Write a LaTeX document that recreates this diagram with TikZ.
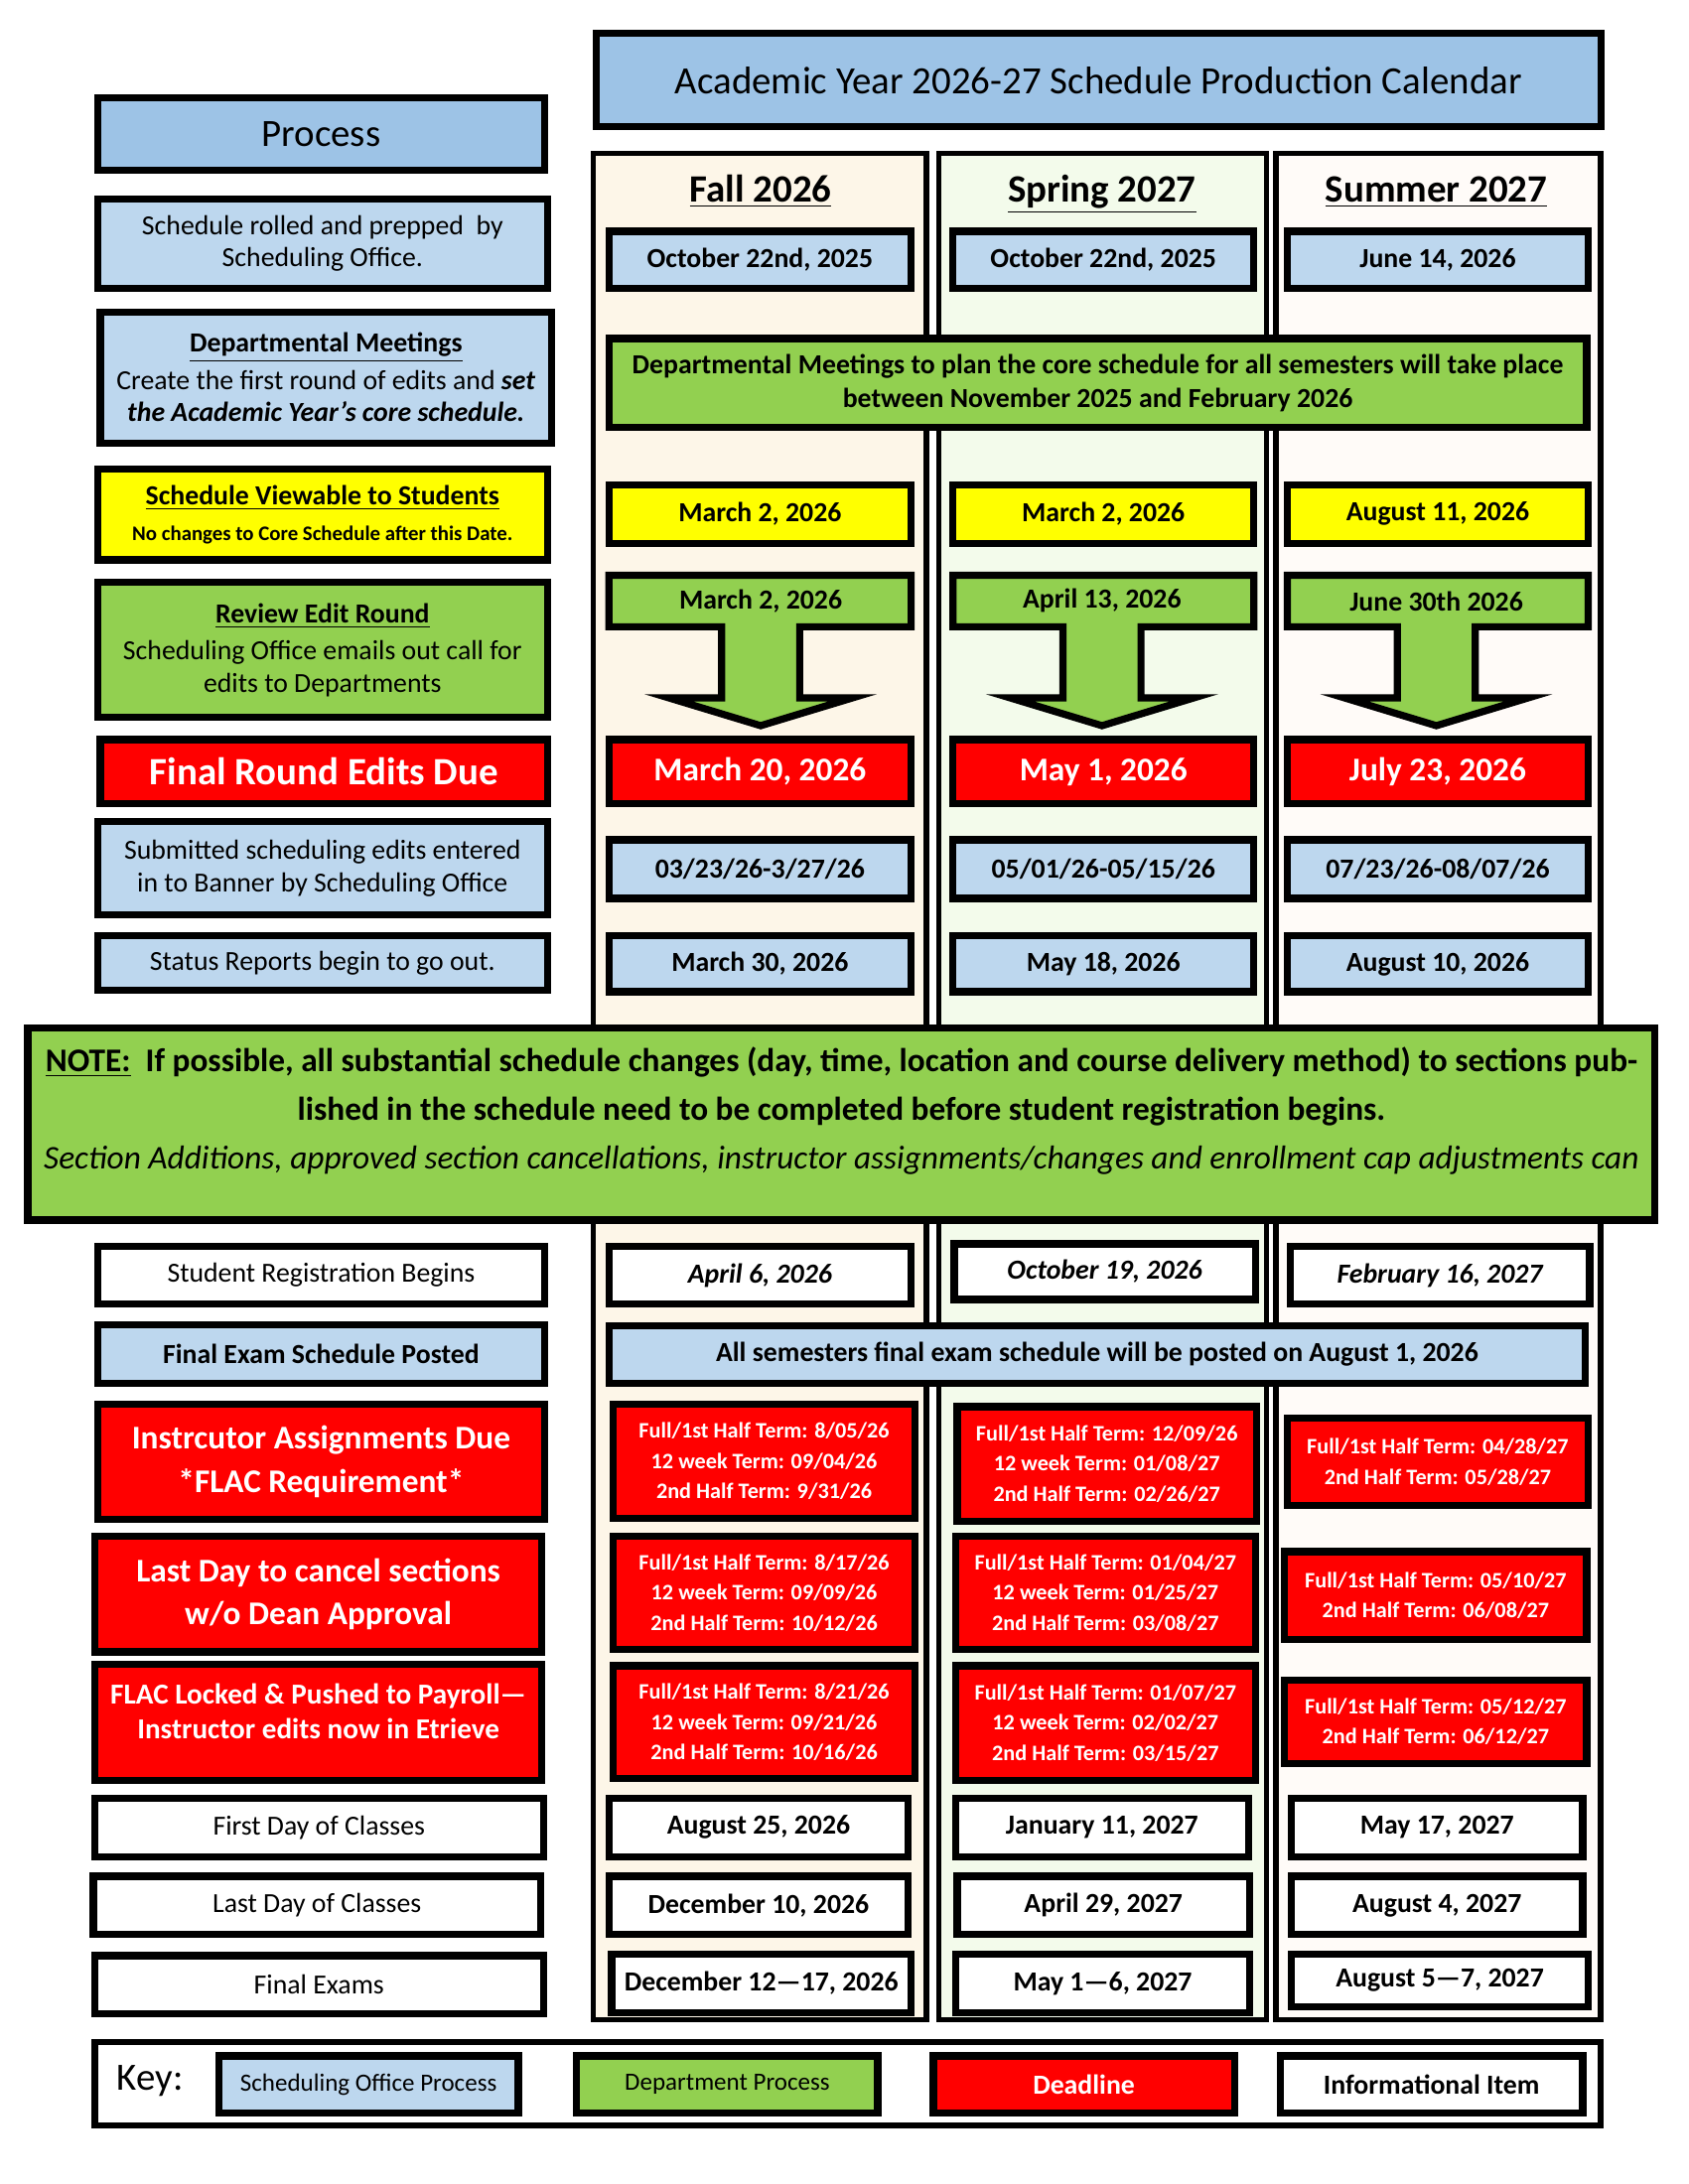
\documentclass[tikz,border=0pt]{standalone}
\usepackage{fontspec}
\setmainfont{Carlito}
\usetikzlibrary{positioning}
\definecolor{hdrblue}{RGB}{157,195,230}
\definecolor{ltblue}{RGB}{189,215,238}
\definecolor{grn}{RGB}{146,208,80}
\definecolor{ylw}{RGB}{255,255,0}
\definecolor{redbox}{RGB}{255,0,0}
\definecolor{fallbg}{RGB}{253,246,232}
\definecolor{springbg}{RGB}{243,251,235}
\definecolor{summerbg}{RGB}{255,251,248}
\tikzset{
cell/.style args={#1/#2/#3/#4}{at={(#1/2+#3/2,#2/2+#4/2)}, minimum width={(#3-#1)*0.505pt}, minimum height={(#4-#2)*0.505pt}}, % box from its corners
boxed/.style={draw, line width=2.6pt, inner sep=0pt, align=center}, % every framed box
hdrbox/.style={boxed, fill=hdrblue, font=\fontsize{14}{17}\selectfont},
schedbox/.style={boxed, fill=ltblue, font=\fontsize{10}{11.6}\selectfont}, % scheduling office
deptbox/.style={boxed, fill=grn, font=\fontsize{10}{11.6}\selectfont}, % department
viewbox/.style={boxed, fill=ylw, font=\fontsize{10}{12}\selectfont\bfseries},
deadbox/.style={boxed, fill=redbox, text=white, font=\fontsize{12}{15.7}\selectfont\bfseries}, % deadline
infobox/.style={boxed, fill=white, font=\fontsize{10}{12}\selectfont},
datetext/.style={font=\fontsize{10}{12}\selectfont\bfseries},
termbox/.style={boxed, fill=redbox, text=white, font=\fontsize{8}{11}\selectfont\bfseries},
colbox/.style={draw, line width=2pt, inner sep=0pt},
semhead/.style={anchor=base, font=\fontsize{14}{17}\selectfont\bfseries},
}
\begin{document}
\begin{tikzpicture}[x=0.505pt, y=-0.505pt]
\useasboundingbox[fill=white] (0,0) rectangle (1212,1568);
% semester columns
\node[colbox, fill=fallbg, cell=426/110/665/1450] (fall) {};
\node[colbox, fill=springbg, cell=674/110/909/1450] (spring) {};
\node[colbox, fill=summerbg, cell=916/110/1149/1450] (summer) {};
\node[semhead] (fallH) at (546,145) {\underline{Fall 2026}};
\node[semhead] (springH) at (791,145) {\underline{Spring 2027}};
\node[semhead] (summerH) at (1031,145) {\underline{Summer 2027}};

\node[hdrbox, cell=428/24/1149/91] (title) {Academic Year 2026-27 Schedule Production Calendar};

% process column
\node[hdrbox, cell=70/70/391/122] (process) {Process};
\node[schedbox, cell=70/143/393/207] (rolled) {Schedule rolled and prepped\ \ by\\Scheduling Office.};
\node[schedbox, cell=72/224/396/318] (meet) {\textbf{\underline{Departmental Meetings}}\\[2pt]Create the first round of edits and \textbf{\textit{set}}\\\textbf{\textit{the Academic Year’s core schedule.}}};
\node[viewbox, cell=70/337/393/402] (viewable) {\underline{Schedule Viewable to Students}\\[1pt]{\fontsize{7.5}{9}\selectfont No changes to Core Schedule after this Date.}};
\node[deptbox, cell=70/418/393/515] (review) {\textbf{\underline{Review Edit Round}}\\[2pt]Scheduling Office emails out call for\\edits to Departments};
\node[deadbox, font=\fontsize{14}{17}\selectfont\bfseries, cell=72/531/393/577] (finalRound) {Final Round Edits Due};
\node[schedbox, cell=70/590/393/657] (entered) {Submitted scheduling edits entered\\in to Banner by Scheduling Office};
\node[schedbox, cell=70/672/393/711] (status) {Status Reports begin to go out.};

% first rows of the semesters
\node[schedbox, datetext, cell=437/166/654/207] (fallA) {October 22nd, 2025};
\node[schedbox, datetext, cell=684/166/900/207] (springA) {October 22nd, 2025};
\node[schedbox, datetext, cell=924/166/1140/207] (summerA) {June 14, 2026};
\node[deptbox, datetext, cell=437/243/1139/307] (meetAll) {Departmental Meetings to plan the core schedule for all semesters will take place\\between November 2025 and February 2026};
\node[viewbox, cell=437/348/654/390] (fallV) {March 2, 2026};
\node[viewbox, cell=684/348/900/390] (springV) {March 2, 2026};
\node[viewbox, cell=924/348/1140/390] (summerV) {August 11, 2026};

% review round arrows
\foreach \cx/\xa/\xb/\txt/\nm in {546/437/654/{March 2, 2026}/fallR, 791/684/900/{April 13, 2026}/springR, 1031/924/1140/{June 30th 2026}/summerR}{
  \draw[deptbox] (\xa,413) -- (\xb,413) -- (\xb,450) -- (\cx+28,450) -- (\cx+28,501) -- (\cx+66,501)
    -- (\cx,521) -- (\cx-66,501) -- (\cx-28,501) -- (\cx-28,450) -- (\xa,450) -- cycle;
  \node[datetext] (\nm) at (\cx,431.5) {\txt};
}

\node[deadbox, cell=437/531/654/577] (fallD) {March 20, 2026};
\node[deadbox, cell=684/531/900/577] (springD) {May 1, 2026};
\node[deadbox, cell=924/531/1140/577] (summerD) {July 23, 2026};
\node[schedbox, datetext, cell=437/603/654/645] (fallE) {03/23/26-3/27/26};
\node[schedbox, datetext, cell=684/603/900/645] (springE) {05/01/26-05/15/26};
\node[schedbox, datetext, cell=924/603/1140/645] (summerE) {07/23/26-08/07/26};
\node[schedbox, datetext, cell=437/672/654/712] (fallS) {March 30, 2026};
\node[schedbox, datetext, cell=684/672/900/712] (springS) {May 18, 2026};
\node[schedbox, datetext, cell=924/672/1140/712] (summerS) {August 10, 2026};

% note across the page
\node[deptbox, cell=20/738/1188/876] (note) {};
\node[anchor=north, inner sep=0pt, align=center, font=\fontsize{12}{17.7}\selectfont\bfseries] (noteText) at (604,751)
  {\underline{NOTE:}\ \ If possible, all substantial schedule changes (day, time, location and course delivery method) to sections pub-\\
  lished in the schedule need to be completed before student registration begins.\\
  {\fontsize{12}{17.7}\selectfont\mdseries\itshape Section Additions, approved section cancellations, instructor assignments/changes and enrollment cap adjustments can}};

% lower process column
\node[infobox, cell=70/895/391/936] (regist) {Student Registration Begins};
\node[schedbox, datetext, cell=70/951/391/993] (examPost) {Final Exam Schedule Posted};
\node[deadbox, cell=70/1008/391/1091] (assign) {Instrcutor Assignments Due\\{}*FLAC Requirement*};
\node[deadbox, cell=68/1103/389/1186] (cancel) {Last Day to cancel sections\\w/o Dean Approval};
\node[deadbox, cell=68/1195/389/1278] (flac) {};
\node[align=center, text=white, font=\fontsize{10.5}{12.6}\selectfont\bfseries] (flacText) at ([yshift=4pt]flac.center) {FLAC Locked \& Pushed to Payroll—\\Instructor edits now in Etrieve};
\node[infobox, cell=68/1291/390/1333] (firstDay) {First Day of Classes};
\node[infobox, cell=67/1347/388/1389] (lastDay) {Last Day of Classes};
\node[infobox, cell=68/1404/390/1446] (exams) {Final Exams};

% lower semester rows
\node[infobox, datetext, cell=437/895/654/936] (fallG) {\itshape April 6, 2026};
\node[infobox, datetext, cell=685/893/901/933] (springG) {\itshape October 19, 2026};
\node[infobox, datetext, cell=926/895/1141/936] (summerG) {\itshape February 16, 2027};
\node[schedbox, datetext, cell=437/952/1138/993] (examAll) {All semesters final exam schedule will be posted on August 1, 2026};

\node[termbox, cell=440/1008/657/1090] (fallT1) {Full/1st Half Term: 8/05/26\\12 week Term: 09/04/26\\2nd Half Term: 9/31/26};
\node[termbox, cell=687/1010/902/1092] (springT1) {Full/1st Half Term: 12/09/26\\12 week Term: 01/08/27\\2nd Half Term: 02/26/27};
\node[termbox, cell=924/1018/1140/1081] (summerT1) {Full/1st Half Term: 04/28/27\\2nd Half Term: 05/28/27};
\node[termbox, cell=440/1103/657/1184] (fallT2) {Full/1st Half Term: 8/17/26\\12 week Term: 09/09/26\\2nd Half Term: 10/12/26};
\node[termbox, cell=686/1103/901/1184] (springT2) {Full/1st Half Term: 01/04/27\\12 week Term: 01/25/27\\2nd Half Term: 03/08/27};
\node[termbox, cell=922/1114/1139/1177] (summerT2) {Full/1st Half Term: 05/10/27\\2nd Half Term: 06/08/27};
\node[termbox, cell=440/1196/657/1277] (fallT3) {Full/1st Half Term: 8/21/26\\12 week Term: 09/21/26\\2nd Half Term: 10/16/26};
\node[termbox, cell=686/1196/901/1278] (springT3) {Full/1st Half Term: 01/07/27\\12 week Term: 02/02/27\\2nd Half Term: 03/15/27};
\node[termbox, cell=922/1206/1139/1266] (summerT3) {Full/1st Half Term: 05/12/27\\2nd Half Term: 06/12/27};

\node[infobox, datetext, cell=437/1291/652/1333] (fallF) {August 25, 2026};
\node[infobox, datetext, cell=686/1291/896/1333] (springF) {January 11, 2027};
\node[infobox, datetext, cell=927/1291/1136/1333] (summerF) {May 17, 2027};
\node[infobox, datetext, cell=437/1347/652/1389] (fallL) {December 10, 2026};
\node[infobox, datetext, cell=687/1347/897/1389] (springL) {April 29, 2027};
\node[infobox, datetext, cell=927/1347/1136/1389] (summerL) {August 4, 2027};
\node[infobox, datetext, cell=439/1403/654/1445] (fallX) {December 12—17, 2026};
\node[infobox, datetext, cell=686/1403/897/1445] (springX) {May 1—6, 2027};
\node[infobox, datetext, cell=927/1403/1140/1441] (summerX) {August 5—7, 2027};

% key
\node[boxed, fill=white, line width=2.3pt, cell=68/1466/1149/1526] (key) {};
\node[anchor=west, font=\fontsize{14}{17}\selectfont] (keyLabel) at (77,1494) {Key:};
\node[schedbox, font=\fontsize{9}{11}\selectfont, cell=157/1476/372/1517] (keySched) {Scheduling Office Process};
\node[deptbox, font=\fontsize{9}{11}\selectfont, cell=414/1476/630/1517] (keyDept) {Department Process};
\node[deadbox, font=\fontsize{10}{12}\selectfont\bfseries, cell=670/1476/886/1517] (keyDead) {Deadline};
\node[infobox, datetext, cell=919/1476/1136/1517] (keyInfo) {Informational Item};
\end{tikzpicture}
\end{document}
